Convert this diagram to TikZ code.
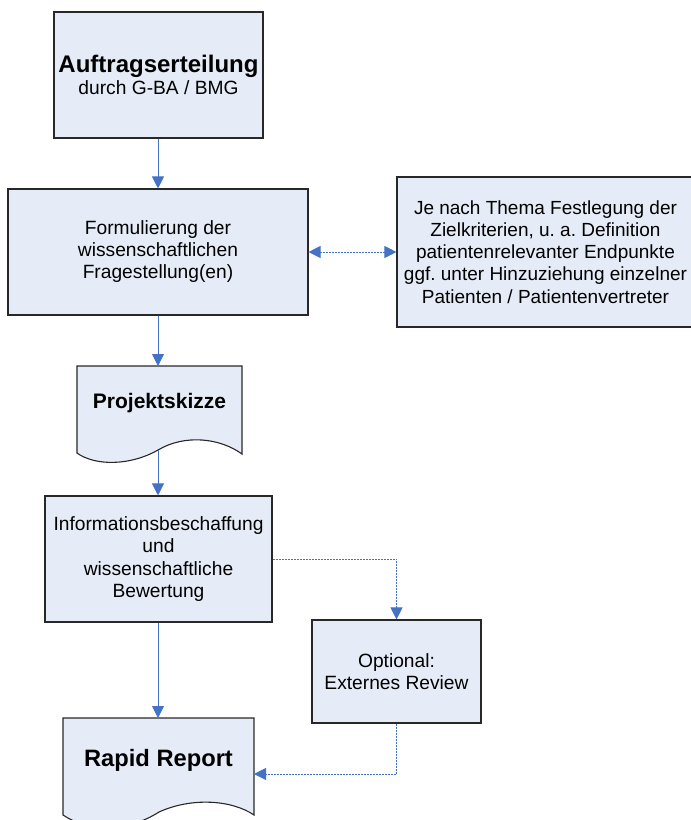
\documentclass[tikz,border=0pt]{standalone}
\usepackage{fontspec}
\setmainfont{Liberation Sans}
\usetikzlibrary{arrows.meta,calc}
\definecolor{boxfill}{RGB}{230,236,247}
\definecolor{boxline}{RGB}{40,40,40}
\definecolor{arrowblue}{RGB}{68,114,196}
\frenchspacing
\begin{document}
\begin{tikzpicture}[x=1pt,y=-1pt,
  box/.style={draw=boxline, fill=boxfill, line width=1.1pt, align=center, inner sep=0pt,
    font=\fontsize{19.2}{22.5}\selectfont},
  docshape/.style={draw=boxline, fill=boxfill, line width=1.1pt},
  doctext/.style={align=center, inner sep=0pt, font=\fontsize{21}{24}\selectfont\bfseries},
  tipA/.tip={Triangle[width=12pt,length=12pt]},
  flow/.style={draw=arrowblue, line width=1pt, -tipA},
  dflow/.style={draw=arrowblue, line width=0.9pt, dash pattern=on 2pt off 1pt, -tipA},
  ddflow/.style={draw=arrowblue, line width=0.9pt, dash pattern=on 2pt off 1pt, tipA-tipA},
]
\useasboundingbox (0,0) rectangle (691,820);
\clip (0,0) rectangle (691,820);

% boxes
\node[box, minimum width=209pt, minimum height=126pt] (auftrag) at (158.5,75)
  {{\fontsize{24}{26}\selectfont\bfseries Auftragserteilung}\\durch G-BA / BMG};
\node[box, minimum width=300pt, minimum height=126pt, font=\fontsize{19.2}{22}\selectfont] (formul) at (158,252)
  {Formulierung der\\wissenschaftlichen\\Fragestellung(en)};
\node[box, minimum width=297pt, minimum height=150pt, font=\fontsize{19}{22.2}\selectfont] (ziel) at (545.5,252)
  {Je nach Thema Festlegung der\\Zielkriterien, u. a. Definition\\patientenrelevanter Endpunkte\\ggf. unter Hinzuziehung einzelner\\Patienten / Patientenvertreter};

% Projektskizze (document shape)
\path[docshape] (77,366) -- (242,366) -- (242,454)
  .. controls (220,438) and (185,434) .. (158,450)
  .. controls (130,466) and (95,466) .. (77,453) -- cycle;
\node[doctext] (skizze) at (159.5,403) {Projektskizze};
\coordinate (skizze-top) at (158,366);
\coordinate (skizze-bot) at (158,450);

\node[box, minimum width=227pt, minimum height=126pt] (info) at (158.5,559)
  {Informationsbeschaffung\\und\\wissenschaftliche\\Bewertung};
\node[box, minimum width=169pt, minimum height=103pt] (review) at (396.5,671.5)
  {Optional:\\Externes Review};

% Rapid Report (document shape)
\path[docshape] (63,718) -- (254,718) -- (254,815)
  .. controls (232,800) and (192,797) .. (159,812)
  .. controls (128,832) and (88,832) .. (63,815) -- cycle;
\node[doctext, font=\fontsize{23.7}{26}\selectfont\bfseries] (report) at (158.5,760) {Rapid Report};
\coordinate (report-top) at (158,718);
\coordinate (report-in) at (254,774);

% connectors
\draw[flow] (auftrag.south -| formul.north) -- (formul.north);
\draw[flow] (formul.south) -- (skizze-top);
\draw[flow] (skizze-bot) -- (skizze-bot |- info.north);
\draw[flow] (info.south -| report-top) -- (report-top);
\draw[ddflow] (formul.east) -- (ziel.west);
\draw[dflow] (info.east) -| (review.north);
\draw[dflow] (review.south) |- (report-in);
\end{tikzpicture}
\end{document}
